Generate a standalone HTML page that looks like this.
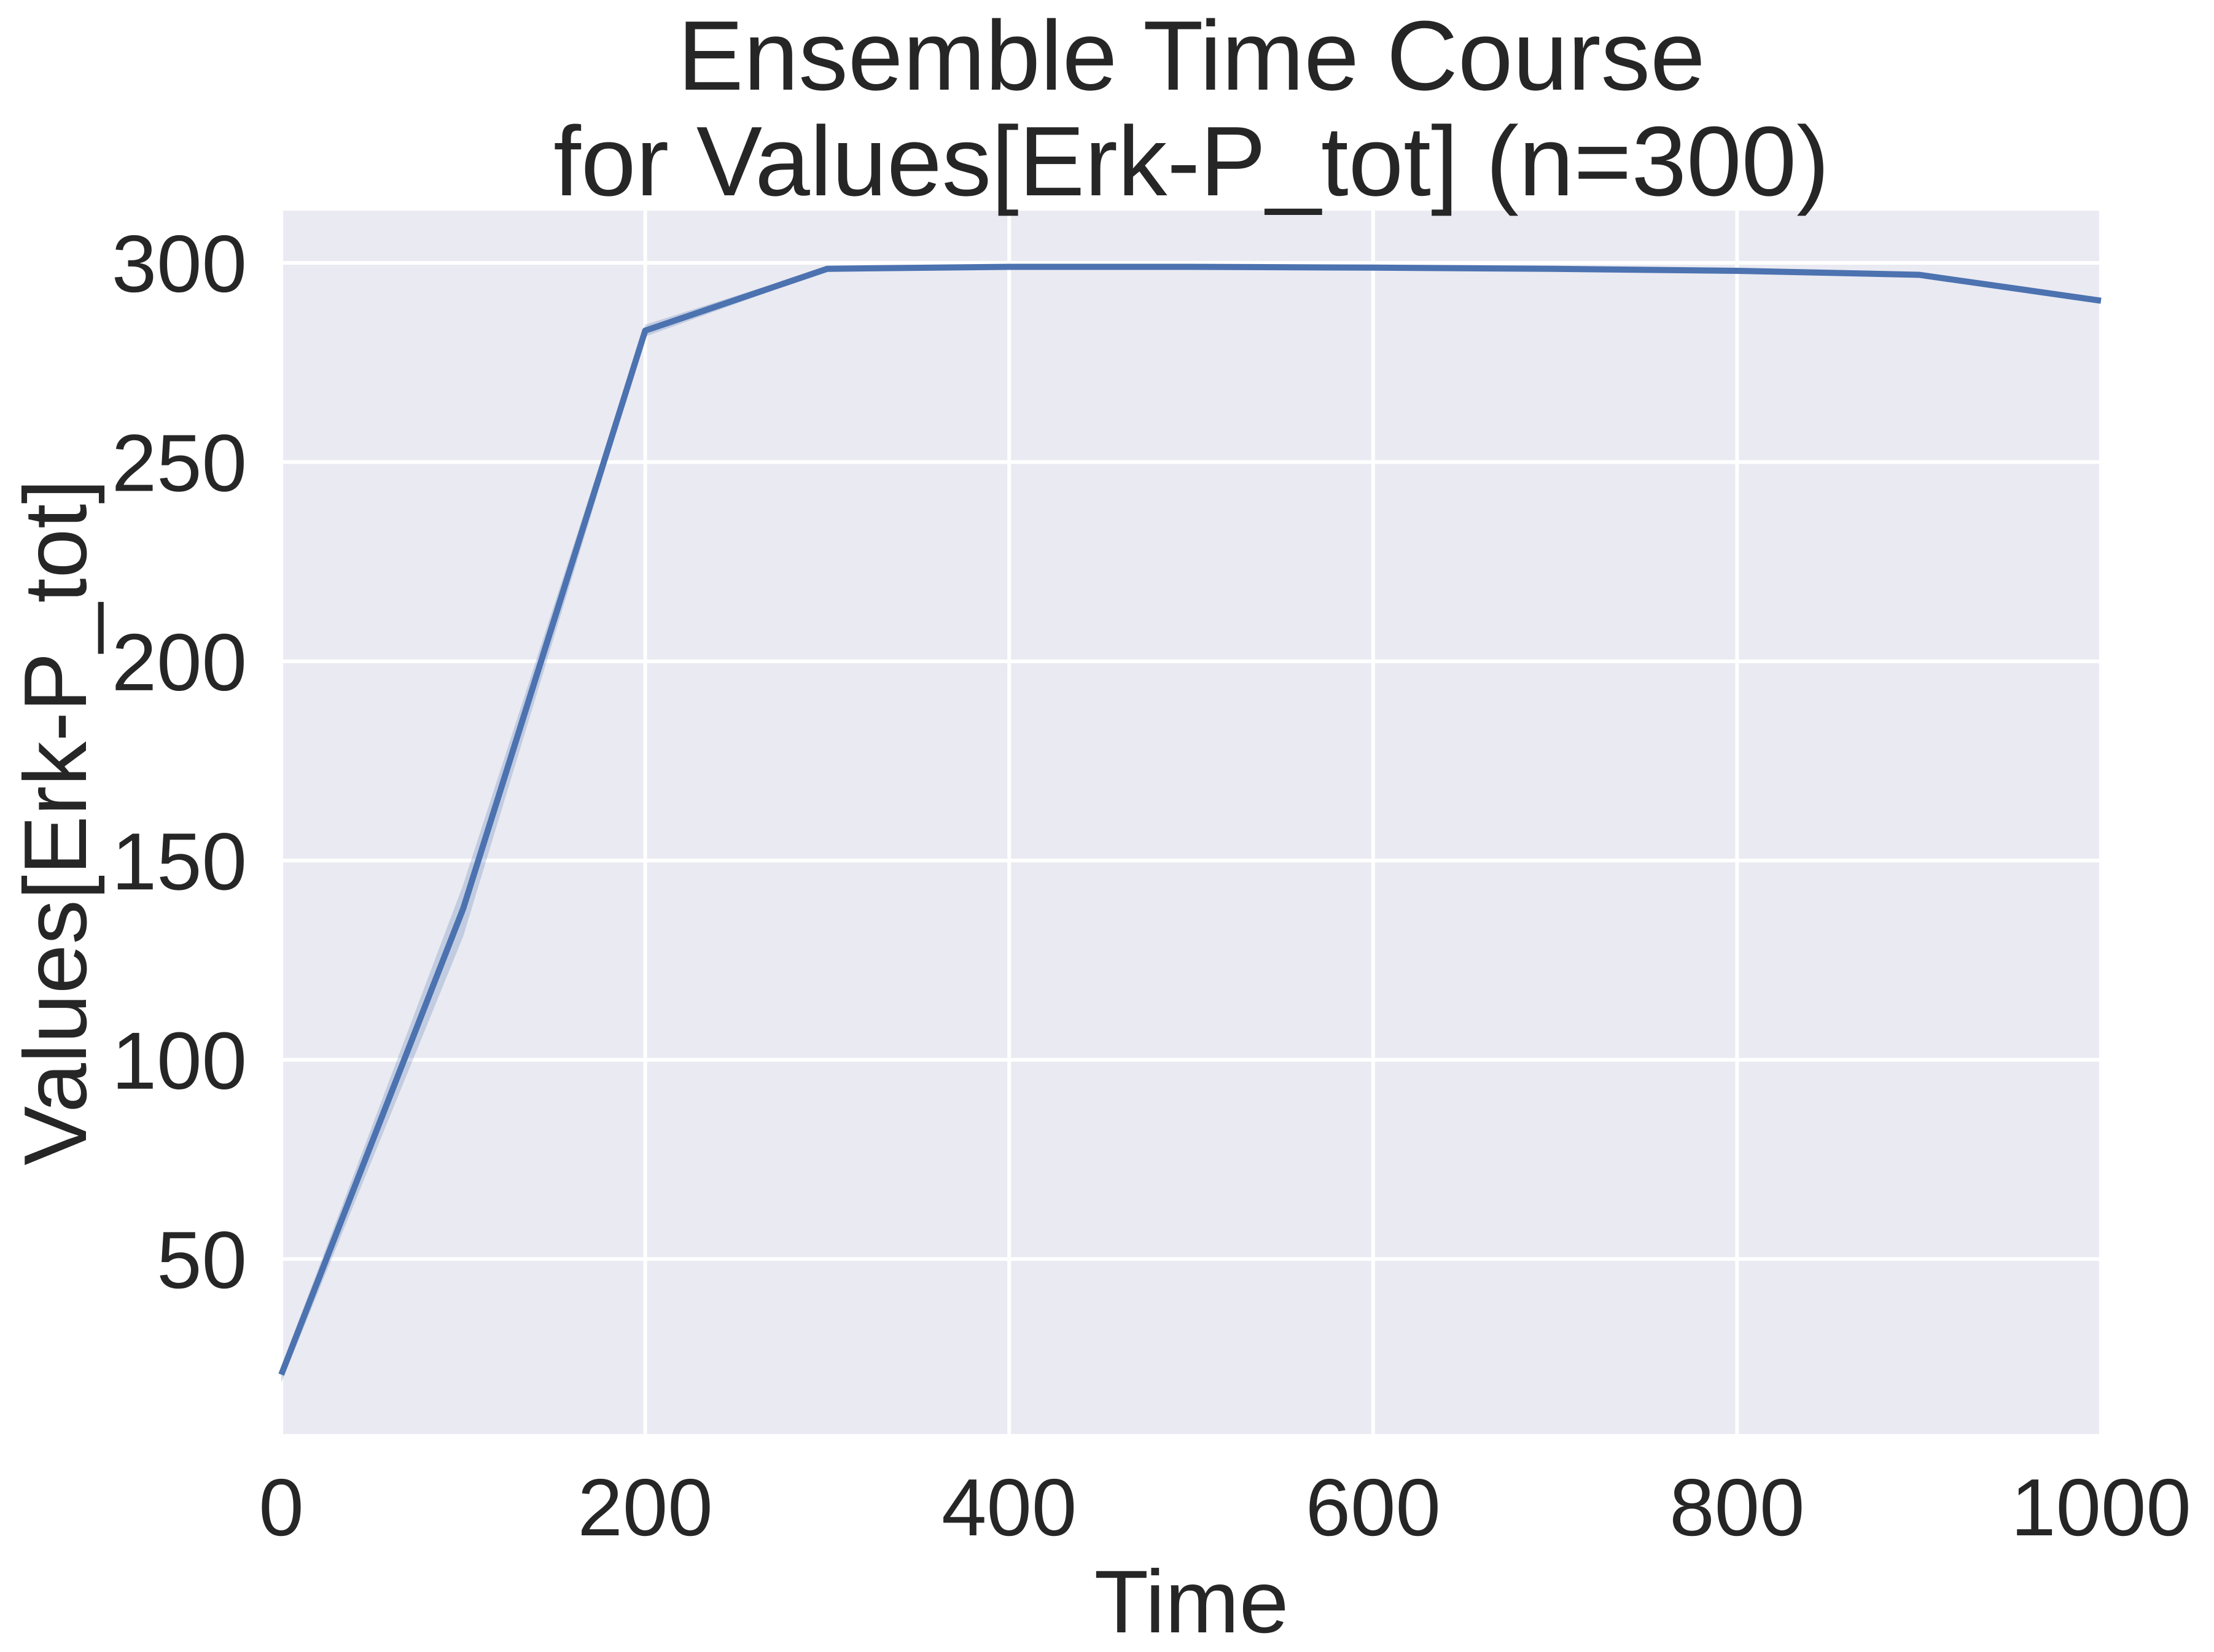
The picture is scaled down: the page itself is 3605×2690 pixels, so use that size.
<!DOCTYPE html>
<html><head><meta charset="utf-8"><style>
html,body{margin:0;padding:0;background:#fff}
svg{display:block;font-family:"Liberation Sans",Arial,sans-serif}
</style></head><body>
<svg id="chart" width="3605" height="2690" viewBox="0 0 3605 2690" xmlns="http://www.w3.org/2000/svg">
<rect x="0" y="0" width="3605" height="2690" fill="#fff"/>
<g id="plot"></g>
</svg>
<script>
const times = [0,100,200,300,400,500,600,700,800,900,1000];
const meanVals = [21,138,283,298.5,299,299,298.8,298.5,298,297,290.5];
const lowerVals = [19,131,281.5,298,298.8,298.8,298.6,298.3,297.8,296.8,290.2];
const upperVals = [23,144,284.5,299,299.2,299.2,299,298.7,298.2,297.2,290.8];
const xTicks = [0,200,400,600,800,1000];
const yTicks = [50,100,150,200,250,300];

const L=458,R=3421,T=343,B=2335;
const xMin=0,xMax=1000,yMin=6.1,yMax=313.1;
const xs=v=>L+(v-xMin)/(xMax-xMin)*(R-L);
const ys=v=>B-(v-yMin)/(yMax-yMin)*(B-T);
const NS='http://www.w3.org/2000/svg';
const g=document.getElementById('plot');
function mk(tag,attrs,parent){const e=document.createElementNS(NS,tag);for(const k in attrs)e.setAttribute(k,attrs[k]);(parent||g).appendChild(e);return e;}

const bg=mk('rect',{x:L,y:T,width:R-L,height:B-T,fill:'#eaeaf2'});



xTicks.forEach(t=>{
  const l=mk('line',{x1:xs(t),x2:xs(t),y1:T,y2:B,stroke:'#fff','stroke-width':6});
  
  
  const tx=mk('text',{x:xs(t),y:2500,'font-size':132,'text-anchor':'middle',fill:'#262626'});
  tx.textContent=t;
  
  
});
yTicks.forEach(t=>{
  const l=mk('line',{x1:L,x2:R,y1:ys(t),y2:ys(t),stroke:'#fff','stroke-width':6});
  
  
  const tx=mk('text',{x:402,y:ys(t)+47,'font-size':132,'text-anchor':'end',fill:'#262626'});
  tx.textContent=t;
  
  
});

let d='';
times.forEach((t,i)=>{d+=(i?'L':'M')+xs(t)+','+ys(upperVals[i]);});
for(let i=times.length-1;i>=0;i--){d+='L'+xs(times[i])+','+ys(lowerVals[i]);}
const band=mk('path',{d:d+'Z',fill:'#4c72b0','fill-opacity':0.25});



const pts=times.map((t,i)=>xs(t)+','+ys(meanVals[i])).join(' ');
const line=mk('polyline',{points:pts,fill:'none',stroke:'#4c72b0','stroke-width':10,'stroke-linejoin':'round'});



const t1=mk('text',{x:1940,y:146,'font-size':161,'text-anchor':'middle',fill:'#262626'});
t1.textContent='Ensemble Time Course';


const t2=mk('text',{x:1940,y:318,'font-size':161,'text-anchor':'middle',fill:'#262626'});
t2.textContent='for Values[Erk-P_tot] (n=300)';


const xl=mk('text',{x:1940,y:2658,'font-size':145,'text-anchor':'middle',fill:'#262626'});
xl.textContent='Time';


const yl=mk('text',{x:0,y:0,'font-size':145,'text-anchor':'middle',fill:'#262626',transform:'translate(140,1339) rotate(-90)'});
yl.textContent='Values[Erk-P_tot]';


</script>
</body></html>
